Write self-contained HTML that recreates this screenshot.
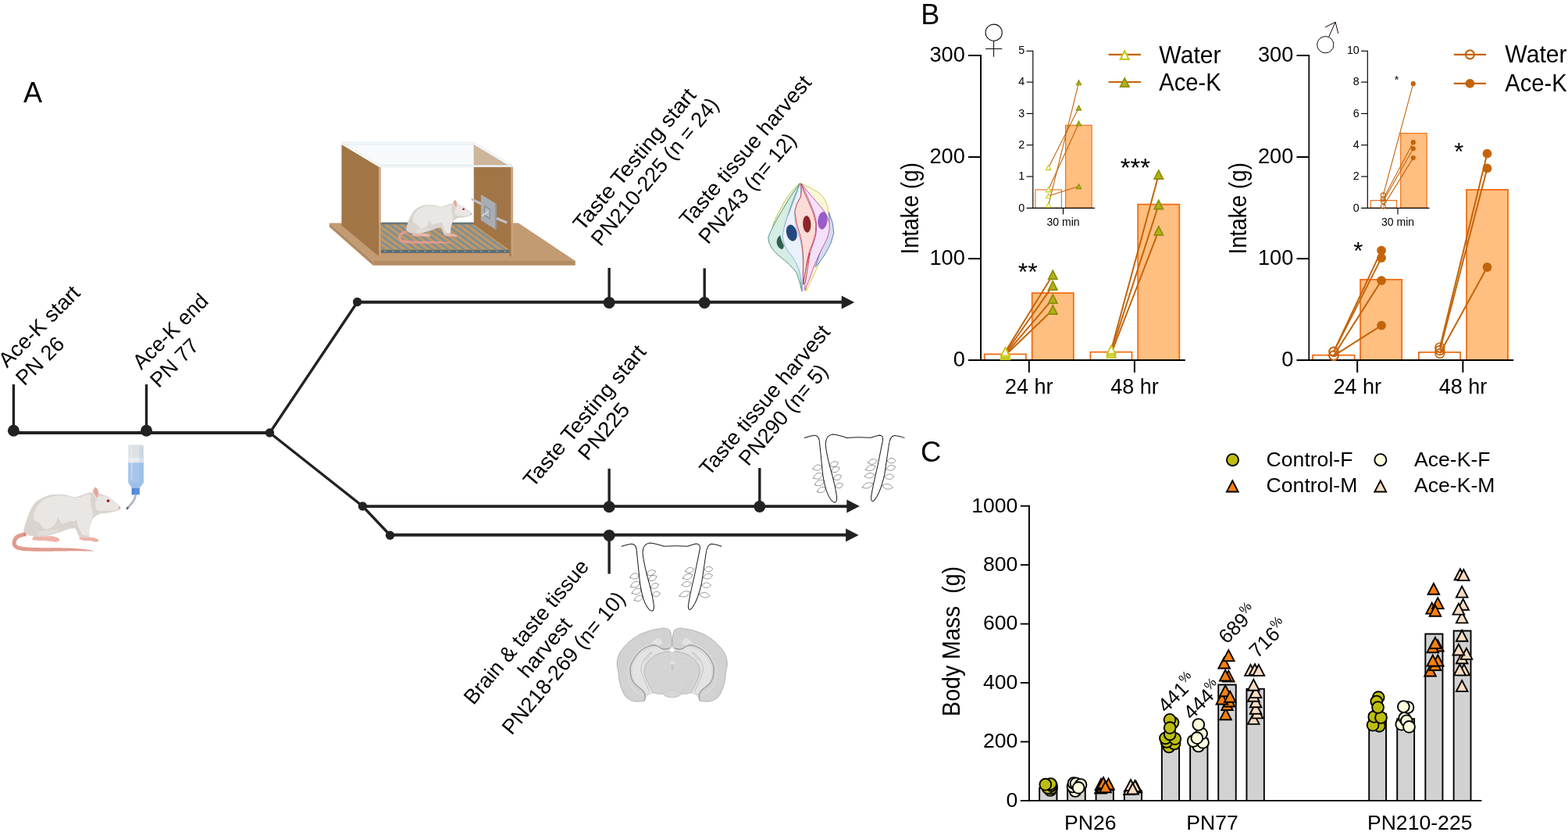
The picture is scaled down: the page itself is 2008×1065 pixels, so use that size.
<!DOCTYPE html>
<html lang="en">
<head>
<meta charset="utf-8">
<title>Figure</title>
<style>
html,body{margin:0;padding:0;background:#fff;}
body{width:2008px;height:1065px;overflow:hidden;}
svg{display:block;position:absolute;left:0;top:0;}
text{font-family:"Liberation Sans","DejaVu Sans",sans-serif;fill:#000;}
</style>
</head>
<body>
<svg width="2008" height="1065" viewBox="0 0 2008 1065">
<rect x="0" y="0" width="2008" height="1065" fill="#ffffff"/>
<!-- 05_rat.svg -->
<defs>
<g id="rat">
  <path d="M260,744 L259,744 L258,744 L256,744 L253,744 L249,744 L245,744 L241,744 L236,745 L231,746 L225,747 L219,748 L213,750 L207,751 L200,753 L193,756 L185,758 L177,761 L168,764 L159,767 L150,770 L142,774 L133,778 L125,783 L117,788 L110,793 L104,799 L98,805 L93,811 L88,818 L84,824 L80,831 L77,837 L74,844 L71,850 L69,857 L67,863 L65,870 L64,876 L63,883 L62,890 L62,897 L62,905 L63,912 L64,919 L66,927 L69,934 L72,942 L77,948 L81,954 L85,959 L90,964 L95,969 L101,974 L108,979 L115,983 L123,987 L131,990 L140,994 L150,997 L160,999 L172,1002 L183,1004 L195,1006 L208,1007 L222,1009 L236,1010 L251,1011 L266,1012 L282,1013 L299,1014 L316,1015 L334,1015 L353,1016 L373,1017 L394,1017 L417,1017 L439,1017 L463,1017 L486,1017 L510,1017 L534,1017 L557,1017 L580,1017 L603,1017 L625,1017 L648,1017 L672,1016 L695,1016 L718,1016 L741,1015 L764,1015 L787,1015 L809,1014 L830,1014 L851,1014 L871,1013 L890,1013 L909,1013 L928,1013 L946,1013 L964,1013 L981,1013 L998,1013 L1014,1013 L1029,1013 L1044,1013 L1058,1013 L1071,1013 L1084,1014 L1095,1014 L1106,1014 L1116,1014 L1125,1014 L1134,1014 L1143,1014 L1150,1014 L1158,1014 L1165,1014 L1172,1014 L1179,1014 L1186,1014 L1192,1014 L1199,1014 L1204,1014 L1209,1014 L1214,1014 L1219,1014 L1223,1014 L1227,1014 L1230,1014 L1233,1014 L1236,1013 L1236,1011 L1234,1010 L1231,1009 L1227,1009 L1224,1008 L1220,1007 L1215,1006 L1210,1005 L1205,1004 L1199,1003 L1193,1002 L1187,1001 L1181,1000 L1174,999 L1167,998 L1160,996 L1152,995 L1144,994 L1136,993 L1127,991 L1118,990 L1108,988 L1097,987 L1085,986 L1073,985 L1059,983 L1045,982 L1031,981 L1015,979 L999,978 L982,977 L965,976 L947,974 L929,973 L910,972 L891,971 L871,971 L851,970 L830,969 L809,969 L787,969 L764,968 L741,968 L718,968 L695,968 L672,968 L648,968 L626,967 L603,967 L580,967 L557,966 L534,966 L510,966 L486,966 L463,966 L440,965 L417,965 L395,965 L375,964 L355,963 L336,963 L319,962 L302,961 L285,959 L270,958 L255,957 L241,956 L228,954 L215,953 L204,951 L193,949 L183,947 L174,945 L165,943 L158,940 L152,938 L147,936 L143,933 L139,931 L136,929 L133,926 L130,924 L128,921 L125,918 L123,916 L122,914 L121,912 L120,909 L120,907 L119,904 L119,901 L119,897 L119,894 L119,890 L120,886 L120,882 L121,879 L123,875 L124,871 L126,867 L128,863 L130,859 L132,855 L135,851 L138,847 L141,843 L144,840 L147,837 L151,834 L155,831 L159,829 L165,826 L172,823 L179,820 L187,817 L195,815 L202,812 L210,810 L217,808 L223,806 L229,804 L233,803 L237,802 L240,802 L243,801 L246,801 L248,801 L251,800 L253,800 L256,800 L259,800 L262,800 L264,800 Z" fill="#E19B8F"/>
  <path d="M262,744 L236,742 L222,800 L262,800 Z" fill="#D98474"/>
  <path d="M380,805 Q340,830 352,852 Q420,868 520,862 Q620,872 700,882 Q745,868 745,845 Q735,822 700,815 L640,800 Z" fill="#EDB4A8"/>
  <path d="M1030,815 Q1010,835 1050,852 Q1100,872 1180,862 Q1250,885 1300,880 Q1312,858 1290,840 Q1250,822 1190,812 Z" fill="#EDB4A8"/>
  <path d="M660,850 L690,878 M700,846 L730,870 M1230,845 L1262,876 M1268,848 L1298,872" stroke="#D9968A" stroke-width="7" fill="none" stroke-linecap="round"/>
  <path d="M225,722 Q240,650 285,520 Q325,400 400,312 Q490,240 600,207 Q720,188 850,210 Q910,225 955,242 Q1020,232 1100,196 Q1160,170 1212,168 Q1260,150 1325,188 Q1390,208 1450,242 Q1530,298 1592,352 Q1625,380 1618,408 Q1605,425 1585,428 Q1530,448 1450,460 Q1370,466 1320,480 Q1260,508 1222,545 Q1192,600 1172,680 Q1165,750 1172,805 Q1100,830 1030,815 Q1002,780 994,735 Q985,700 960,686 Q900,682 840,708 Q790,730 740,745 Q680,762 610,784 Q560,802 500,808 Q400,812 300,790 Q250,765 225,722 Z" fill="#D9D4CF"/>
  <path d="M372,480 Q400,370 500,285 Q600,225 730,215 Q860,218 955,252 Q1040,244 1130,205 Q1175,190 1195,215 Q1180,300 1200,380 Q1230,450 1215,520 Q1180,600 1170,690 Q1165,750 1165,790 Q1100,800 1060,770 Q1030,700 1000,640 Q990,600 1000,560 Q960,592 900,582 Q830,600 790,625 Q745,600 715,520 Q705,600 660,650 Q600,700 530,700 Q490,670 470,620 Q430,590 385,575 Q365,530 372,480 Z" fill="#E9E6E4"/>
  <path d="M1258,300 Q1290,262 1320,215 Q1390,215 1450,250 Q1530,305 1590,358 Q1610,385 1598,410 Q1530,435 1450,438 Q1380,425 1330,440 Q1280,430 1262,400 Q1250,350 1258,300 Z" fill="#E9E6E4"/>
  <path d="M420,735 Q520,730 640,700 Q700,690 750,712 Q700,745 620,772 Q540,792 450,790 Q430,765 420,735 Z" fill="#E1DDD8"/>
  <path d="M1208,170 Q1212,110 1250,88 Q1290,95 1310,165 Q1305,225 1285,262 Q1245,230 1208,170 Z" fill="#EFEAE7"/>
  <path d="M1226,165 Q1232,114 1256,100 Q1288,112 1302,168 Q1298,218 1282,250 Q1248,218 1226,165 Z" fill="#E4A89C"/>
  <ellipse cx="1441" cy="292" rx="22" ry="21" fill="#A5232B"/>
  <circle cx="1436" cy="287" r="7" fill="#7A1218"/>
  <path d="M1596,372 Q1622,378 1620,400 Q1610,415 1594,410 Q1588,390 1596,372 Z" fill="#E5A0A0"/>
  <path d="M1585,428 Q1530,448 1450,460 Q1400,462 1360,470" stroke="#CFC8C2" stroke-width="5" fill="none"/>
</g>
</defs>
<use href="#rat" transform="translate(10,615) scale(0.089186)"/>
<g id="bottle" transform="translate(140,560) scale(0.093835)">
  <path d="M258,120 Q258,100 290,98 L436,98 Q468,100 468,120 L468,612 L412,690 L310,690 L258,612 Z" fill="#DCE2E6"/>
  <path d="M258,340 L468,340 L468,612 L412,690 L310,690 L258,612 Z" fill="#A6C6EB"/>
  <rect x="258" y="278" width="210" height="62" fill="#E9EDF0"/>
  <rect x="258" y="338" width="210" height="12" fill="#C3D9F2"/>
  <rect x="296" y="130" width="18" height="440" fill="#ffffff" opacity="0.35"/>
  <rect x="410" y="120" width="58" height="490" fill="#7fa6d8" opacity="0.18"/>
  <path d="M258,612 L468,612 L412,690 L310,690 Z" fill="#9DC0EA"/>
  <rect x="306" y="690" width="108" height="90" rx="8" fill="#5A8DDA"/>
  <rect x="306" y="690" width="30" height="90" rx="8" fill="#4A7ACB" opacity="0.6"/>
  <path d="M360,778 Q352,835 322,878 L244,968" stroke="#8E98A8" stroke-width="26" fill="none" stroke-linecap="butt"/>
  <path d="M360,778 Q352,835 322,878 L246,966" stroke="#C4CBD6" stroke-width="14" fill="none" stroke-linecap="butt"/>
  <path d="M252,958 L242,970" stroke="#59647A" stroke-width="26" fill="none" stroke-linecap="round"/>
</g>
<!-- 06_cage.svg -->
<g id="cage" transform="translate(410,170) scale(0.16932)">
  <path d="M70,682 L1500,682 L1930,968 L400,968 Z" fill="#C39B73"/>
  <path d="M400,968 L1930,968 L1930,1003 L400,1003 Z" fill="#B38C63"/>
  <path d="M70,682 L400,968 L400,1003 L70,712 Z" fill="#B38C63"/>
  <clipPath id="floorclip"><path d="M458,690 L1160,690 L1431,884 L458,884 Z"/></clipPath>
  <path d="M458,678 L1160,678 L1431,884 L458,884 Z" fill="#C6975F"/>
  <g clip-path="url(#floorclip)" stroke="#7F9197" stroke-width="18" fill="none">
    <path d="M157,690 L428,884"/>
    <path d="M217.5,690 L488.5,884"/>
    <path d="M278.0,690 L549.0,884"/>
    <path d="M338.5,690 L609.5,884"/>
    <path d="M399.0,690 L670.0,884"/>
    <path d="M459.5,690 L730.5,884"/>
    <path d="M520.0,690 L791.0,884"/>
    <path d="M580.5,690 L851.5,884"/>
    <path d="M641.0,690 L912.0,884"/>
    <path d="M701.5,690 L972.5,884"/>
    <path d="M762.0,690 L1033.0,884"/>
    <path d="M822.5,690 L1093.5,884"/>
    <path d="M883.0,690 L1154.0,884"/>
    <path d="M943.5,690 L1214.5,884"/>
    <path d="M1004.0,690 L1275.0,884"/>
    <path d="M1064.5,690 L1335.5,884"/>
    <path d="M1125.0,690 L1396.0,884"/>
    <path d="M1185.5,690 L1456.5,884"/>
  </g>
  <path d="M458,678 L1160,678 L1180,693 L458,693 Z" fill="#66777C"/>
  <path d="M458,884 L1431,884 L1431,910 L458,910 Z" fill="#5F6E73"/>
  <g fill="#83959A">
    <circle cx="490" cy="897" r="7"/>
    <circle cx="550" cy="897" r="7"/>
    <circle cx="611" cy="897" r="7"/>
    <circle cx="672" cy="897" r="7"/>
    <circle cx="732" cy="897" r="7"/>
    <circle cx="792" cy="897" r="7"/>
    <circle cx="853" cy="897" r="7"/>
    <circle cx="914" cy="897" r="7"/>
    <circle cx="974" cy="897" r="7"/>
    <circle cx="1034" cy="897" r="7"/>
    <circle cx="1095" cy="897" r="7"/>
    <circle cx="1156" cy="897" r="7"/>
    <circle cx="1216" cy="897" r="7"/>
    <circle cx="1276" cy="897" r="7"/>
    <circle cx="1337" cy="897" r="7"/>
    <circle cx="1398" cy="897" r="7"/>
  </g>
  <path d="M162,88 L445,258 L445,935 L162,700 Z" fill="#A27546"/>
  <path d="M445,258 L459,258 L459,935 L445,935 Z" fill="#C9A27B"/>
  <path d="M1162,88 L1445,258 L1445,935 L1431,884 L1162,692 Z" fill="#A27546"/>
  <path d="M1431,884 L1445,884 L1445,935 L1431,935 Z" fill="#A27546"/>
  <path d="M1445,258 L1459,258 L1459,935 L1445,935 Z" fill="#C9A27B"/>
  <path d="M1143,492 L1216,526 L1216,546 L1143,508 Z" fill="#BFC5CE"/>
  <path d="M1334,636 L1418,672 L1408,688 L1334,656 Z" fill="#BFC5CE"/>
  <path d="M1216,466 L1334,538 L1334,736 L1216,662 Z" fill="#A8ADB3"/>
  <path d="M1324,532 L1334,538 L1334,736 L1324,730 Z" fill="#8E949B"/>
  <path d="M1240,548 L1287,576 L1287,656 L1240,628 Z" fill="#8A9097"/>
  <path d="M1248,562 L1280,581 L1280,640 L1248,622 Z" fill="#B6BBC1"/>
  <path d="M1226,626 L1268,598" stroke="#D3D8DE" stroke-width="11" stroke-linecap="round" fill="none"/>
  <path d="M162,72 L1165,72 L1450,245 L445,245 Z" fill="#F4F8FB" fill-opacity="0.75" stroke="#C9D6DE" stroke-width="3"/>
  <path d="M162,88 L1162,88" stroke="#C9D6DE" stroke-width="3" fill="none"/>
  <path d="M1162,89 L1440,256 L1162,256 Z" fill="#CDB59C"/>
  <path d="M445,245 L1450,245 L1450,258 L445,258 Z" fill="#FAFCFD" stroke="#C9D6DE" stroke-width="3"/>
</g>
<use href="#rat" transform="translate(506.2,250.05) scale(0.06065)"/>
<!-- 07_bud.svg -->
<g id="tastebud" transform="translate(960,220) scale(0.15022)" stroke-width="6" stroke-linejoin="round">
  <path d="M432,96 Q520,130 600,185 Q665,250 670,330 Q700,420 690,520 Q660,640 600,760 Q540,900 482,1016 Q470,900 500,700 Q560,400 432,96 Z" fill="#FAF6D8" stroke="#D2C24E"/>
  <path d="M425,98 Q330,180 260,320 Q205,420 195,470 Q250,420 330,300 Q390,190 425,98 Z" fill="#F1F3D2" stroke="#B5C050"/>
  <path d="M675,345 Q715,430 718,520 Q700,610 650,690 Q600,770 560,810 Q600,680 650,560 Q690,450 675,345 Z" fill="#D3DDEE" stroke="#4F72BA"/>
  <path d="M428,98 Q340,210 270,340 Q190,470 158,560 Q160,640 250,715 Q350,790 400,860 Q430,940 445,1018 Q440,900 420,800 Q380,700 310,640 Q280,560 300,450 Q350,280 428,98 Z" fill="#D5EDE3" stroke="#3F8A76"/>
  <path d="M262,540 Q232,560 230,600 Q235,645 275,660 Q295,650 290,620 Q270,590 262,540 Z" fill="#2E5F50" stroke="none"/>
  <path d="M430,98 Q395,200 345,330 Q290,450 282,540 Q285,620 330,680 Q400,760 425,850 Q445,940 448,1018 Q455,900 455,780 Q455,640 420,540 Q380,430 385,330 Q400,260 435,210 Q440,150 430,98 Z" fill="#EAF1FB" stroke="#8FA9DA"/>
  <ellipse cx="358" cy="520" rx="43" ry="70" transform="rotate(-14 358 520)" fill="#25487F" stroke="#1B3560" stroke-width="2"/>
  <path d="M440,100 Q520,200 600,290 Q670,370 682,450 Q680,540 640,610 Q590,700 550,800 Q510,920 470,1010 Q470,900 500,760 Q520,660 560,560 Q580,470 560,380 Q520,260 440,100 Z" fill="#F4E0F8" stroke="#BD4FA0"/>
  <ellipse cx="622" cy="415" rx="39" ry="74" transform="rotate(6 622 415)" fill="#9A5CC6" stroke="#7B42A6" stroke-width="2"/>
  <path d="M438,100 Q445,170 435,215 Q395,270 385,335 Q390,430 425,520 Q455,620 458,760 Q455,900 458,960 Q475,860 490,760 Q505,670 540,600 Q572,520 565,440 Q545,340 500,250 Q460,170 438,100 Z" fill="#FBDCD8" stroke="#C23A40"/>
  <path d="M458,960 Q480,800 512,690 Q500,800 475,940 Z" fill="#FBDCD8" stroke="#C23A40"/>
  <ellipse cx="488" cy="445" rx="33" ry="71" transform="rotate(-3 488 445)" fill="#8C2528" stroke="#6E1A1E" stroke-width="2"/>
</g>
<!-- 08_pap.svg -->
<defs>
<g id="papillae" fill="none" stroke="#1c1c1c" stroke-linecap="round" stroke-linejoin="round">
  <path stroke-width="9" d="M92,181 Q150,163 200,154 Q250,152 260,215 L298,590 Q330,820 405,900 Q460,945 458,855 Q440,720 385,530 Q335,340 330,250 Q335,150 412,142 Q480,148 572,181 Q700,170 842,180 Q900,160 938,152 Q988,152 980,212 L922,500 Q862,750 848,858 Q848,925 885,888 Q950,815 1000,600 L1050,262 Q1062,162 1112,155 Q1170,160 1225,181"/>
  <path stroke-width="4.2" stroke="#2a2a2a" d="M188,535 Q258,583 290,505 Q220,457 188,535 Z"/>
  <path stroke-width="4.2" stroke="#2a2a2a" d="M192,640 Q274,675 300,590 Q218,555 192,640 Z"/>
  <path stroke-width="4.2" stroke="#2a2a2a" d="M208,715 Q288,754 318,670 Q238,631 208,715 Z"/>
  <path stroke-width="4.2" stroke="#2a2a2a" d="M235,795 Q310,829 335,750 Q260,716 235,795 Z"/>
  <path stroke-width="4.2" stroke="#2a2a2a" d="M375,500 Q448,539 478,462 Q405,423 375,500 Z"/>
  <path stroke-width="4.2" stroke="#2a2a2a" d="M395,565 Q469,599 490,520 Q416,486 395,565 Z"/>
  <path stroke-width="4.2" stroke="#2a2a2a" d="M420,650 Q490,688 512,612 Q442,574 420,650 Z"/>
  <path stroke-width="4.2" stroke="#2a2a2a" d="M440,735 Q500,782 530,712 Q470,665 440,735 Z"/>
  <path stroke-width="4.2" stroke="#2a2a2a" d="M815,465 Q880,513 915,440 Q850,392 815,465 Z"/>
  <path stroke-width="4.2" stroke="#2a2a2a" d="M785,545 Q863,584 900,505 Q822,466 785,545 Z"/>
  <path stroke-width="4.2" stroke="#2a2a2a" d="M775,620 Q841,671 885,600 Q819,549 775,620 Z"/>
  <path stroke-width="4.2" stroke="#2a2a2a" d="M748,745 Q830,781 870,700 Q788,664 748,745 Z"/>
  <path stroke-width="4.2" stroke="#2a2a2a" d="M1030,445 Q1083,503 1128,438 Q1075,380 1030,445 Z"/>
  <path stroke-width="4.2" stroke="#2a2a2a" d="M1018,535 Q1086,583 1125,510 Q1057,462 1018,535 Z"/>
  <path stroke-width="4.2" stroke="#2a2a2a" d="M1000,625 Q1056,685 1108,622 Q1052,562 1000,625 Z"/>
  <path stroke-width="4.2" stroke="#2a2a2a" d="M975,725 Q1025,796 1095,745 Q1045,674 975,725 Z"/>
</g>
</defs>
<use href="#papillae" transform="translate(1020,540) scale(0.1127)"/>
<use href="#papillae" transform="translate(785.8,678.9) scale(0.1127)"/>
<!-- 09_brain.svg -->
<g id="brain" transform="translate(770,790) scale(0.11264)" stroke-linejoin="round">
  <path d="M805,250 Q700,130 440,195 Q215,395 200,700 Q260,900 490,950 Q520,880 590,860 Q700,872 805,912 Q910,872 1020,860 Q1090,880 1120,950 Q1350,900 1410,700 Q1395,395 1170,195 Q910,130 805,250 Z" fill="#E1E1E1" stroke="none"/>
  <path d="M640,330 Q560,325 470,395 Q380,470 350,560 Q335,640 370,730 Q420,790 490,840 Q510,870 520,880 Q560,870 590,860 Q540,760 500,680 Q470,600 500,540 Q540,470 600,430 Q660,400 740,395 Q700,370 640,330 Z" fill="#E3E3E3" stroke="#BDBBBB" stroke-width="4"/>
  <path d="M970,330 Q1050,325 1140,395 Q1230,470 1260,560 Q1275,640 1240,730 Q1190,790 1120,840 Q1100,870 1090,880 Q1050,870 1020,860 Q1070,760 1110,680 Q1140,600 1110,540 Q1070,470 1010,430 Q950,400 870,395 Q910,370 970,330 Z" fill="#E3E3E3" stroke="#BDBBBB" stroke-width="4"/>
  <path d="M805,400 Q780,385 740,392 Q660,405 610,440 Q540,480 505,550 Q480,610 505,690 Q540,770 590,860 Q640,880 700,872 Q720,900 760,908 Q790,912 805,912 Q820,912 850,908 Q890,900 910,872 Q970,880 1020,860 Q1070,770 1105,690 Q1130,610 1105,550 Q1070,480 1000,440 Q950,405 870,392 Q830,385 805,400 Z" fill="#D4D4D4" stroke="#A9A6A6" stroke-width="5"/>
  <path d="M805,300 Q800,190 780,150 Q750,120 690,126 Q560,140 440,195 Q300,270 215,395 Q170,480 180,560 Q200,620 200,700 Q215,800 260,880 Q300,945 380,958 Q450,965 490,950 Q505,920 498,880 Q480,830 430,800 Q370,760 345,700 Q320,620 335,550 Q370,450 450,380 Q530,320 610,318 Q650,330 690,360 Q740,372 775,355 Q800,335 805,300 Z" fill="#D2D2D2" stroke="#A09C9C" stroke-width="6"/>
  <path d="M805,300 Q810,190 830,150 Q860,120 920,126 Q1050,140 1170,195 Q1310,270 1395,395 Q1440,480 1430,560 Q1410,620 1410,700 Q1395,800 1350,880 Q1310,945 1230,958 Q1160,965 1120,950 Q1105,920 1112,880 Q1130,830 1180,800 Q1240,760 1265,700 Q1290,620 1275,550 Q1240,450 1160,380 Q1080,320 1000,318 Q960,330 920,360 Q870,372 835,355 Q810,335 805,300 Z" fill="#D2D2D2" stroke="#A09C9C" stroke-width="6"/>
  <path d="M490,950 Q505,920 498,880 Q480,830 430,800 Q370,760 345,700 Q320,620 335,550 Q370,450 450,380 Q530,320 610,318 Q650,330 690,360 Q740,372 775,355" fill="none" stroke="#9A9696" stroke-width="9" stroke-linecap="round"/>
  <path d="M1120,950 Q1105,920 1112,880 Q1130,830 1180,800 Q1240,760 1265,700 Q1290,620 1275,550 Q1240,450 1160,380 Q1080,320 1000,318 Q960,330 920,360 Q870,372 835,355" fill="none" stroke="#9A9696" stroke-width="9" stroke-linecap="round"/>
  <path d="M560,300 Q600,250 650,238 Q690,250 690,290 Q680,320 650,325 Q620,305 560,300 Z" fill="#E2E2E2" stroke="none"/>
  <path d="M1050,300 Q1010,250 960,238 Q920,250 920,290 Q930,320 960,325 Q990,305 1050,300 Z" fill="#E2E2E2" stroke="none"/>
  <path d="M555,305 Q470,340 400,410 Q330,490 305,580 Q290,680 330,770 Q380,850 470,890" fill="none" stroke="#E0E0E0" stroke-width="14"/>
  <path d="M555,305 Q470,340 400,410 Q330,490 305,580 Q290,680 330,770 Q380,850 470,890" fill="none" stroke="#C4C2C2" stroke-width="3"/>
  <path d="M1055,305 Q1140,340 1210,410 Q1280,490 1305,580 Q1320,680 1280,770 Q1230,850 1140,890" fill="none" stroke="#E0E0E0" stroke-width="14"/>
  <path d="M1055,305 Q1140,340 1210,410 Q1280,490 1305,580 Q1320,680 1280,770 Q1230,850 1140,890" fill="none" stroke="#C4C2C2" stroke-width="3"/>
  <path d="M580,390 Q520,430 480,490 Q450,540 450,600 Q470,680 510,760 Q540,820 545,850" fill="none" stroke="#A9A6A6" stroke-width="5"/>
  <path d="M1030,390 Q1090,430 1130,490 Q1160,540 1160,600 Q1140,680 1100,760 Q1070,820 1065,850" fill="none" stroke="#A9A6A6" stroke-width="5"/>
  <path d="M575,395 Q560,420 520,470 Q500,490 490,500" fill="none" stroke="#B0ADAD" stroke-width="6"/>
  <path d="M1035,395 Q1050,420 1090,470 Q1110,490 1120,500" fill="none" stroke="#B0ADAD" stroke-width="6"/>
  <path d="M745,400 Q700,420 680,455 Q690,480 710,460 Q730,430 760,415 Z" fill="#DDDDDD" stroke="#B0ADAD" stroke-width="3"/>
  <path d="M865,400 Q910,420 930,455 Q920,480 900,460 Q880,430 850,415 Z" fill="#DDDDDD" stroke="#B0ADAD" stroke-width="3"/>
  <path d="M775,368 L805,350 L838,370 L812,395 L805,410 L796,392 Z" fill="#ffffff" stroke="none"/>
  <ellipse cx="808" cy="520" rx="28" ry="22" fill="#E2E2E2" stroke="none"/>
  <path d="M800,540 Q812,535 818,550 Q815,585 808,598 Q800,580 800,540 Z" fill="#D8D8D8" stroke="#8F8C8C" stroke-width="3"/>
  <path d="M700,872 Q720,840 770,828 Q840,825 890,845 Q910,860 910,872 Q890,900 850,908 Q805,915 760,908 Q720,900 700,872 Z" fill="#D6D6D6" stroke="#B5B2B2" stroke-width="3"/>
  <path d="M560,700 Q610,760 660,790 Q690,830 690,860" fill="none" stroke="#BEBBBB" stroke-width="3"/>
  <path d="M1050,700 Q1000,760 950,790 Q920,830 920,860" fill="none" stroke="#BEBBBB" stroke-width="3"/>
</g>
<!-- 10_timeline.svg -->
<g id="timeline" stroke="#222222" fill="none" stroke-linecap="butt">
  <path stroke-width="4" d="M17.5,554 H345.5"/>
  <path stroke-width="3.4" d="M345.5,554 L457.6,386.7"/>
  <path stroke-width="3.9" d="M457.6,386.7 H1079"/>
  <path stroke-width="3.4" d="M345.5,554 L464.4,648 L499.5,685"/>
  <path stroke-width="3.9" d="M464.4,648.1 H1086"/>
  <path stroke-width="3.9" d="M499.5,684.8 H1085"/>
  <path stroke-width="3.4" d="M17.4,492 V552"/>
  <path stroke-width="3.4" d="M187.5,492 V552"/>
  <path stroke-width="3.4" d="M780.1,342.9 V387"/>
  <path stroke-width="3.4" d="M902.2,343.4 V387"/>
  <path stroke-width="3.4" d="M780.1,599.9 V648"/>
  <path stroke-width="3.4" d="M972.8,599 V648"/>
  <path stroke-width="3.4" d="M780.1,685 V734.5"/>
</g>
<g id="timeline-dots" fill="#222222" stroke="none">
  <circle cx="17.4" cy="551.2" r="7.5"/>
  <circle cx="187.5" cy="551.2" r="7.5"/>
  <circle cx="345.4" cy="554" r="5.7"/>
  <circle cx="457.6" cy="386.5" r="5.7"/>
  <circle cx="464.4" cy="648" r="5.7"/>
  <circle cx="499.5" cy="685.2" r="5.7"/>
  <circle cx="780.1" cy="387.4" r="7.5"/>
  <circle cx="902.2" cy="387.4" r="7.5"/>
  <circle cx="780.1" cy="648.8" r="7.5"/>
  <circle cx="972.8" cy="648.4" r="7.5"/>
  <circle cx="780.1" cy="685.4" r="7.5"/>
  <path d="M1077.7,378.4 L1094.2,386.9 L1077.7,395.4 Z"/>
  <path d="M1084.3,639.6 L1100.8,648.1 L1084.3,656.6 Z"/>
  <path d="M1083.1,676.5 L1099.6,685 L1083.1,693.5 Z"/>
</g>
<g id="timeline-labels" font-size="27">
  <text x="29.9" y="130.5" font-size="36">A</text>
  <g transform="translate(9,471.7) rotate(-45)"><text x="0" y="0.0" textLength="134.6" lengthAdjust="spacingAndGlyphs">Ace-K start</text><text x="-0.7" y="32.0" textLength="75" lengthAdjust="spacingAndGlyphs">PN 26</text></g>
  <g transform="translate(181.1,474.3) rotate(-45)"><text x="0" y="0.0" textLength="123.5" lengthAdjust="spacingAndGlyphs">Ace-K end</text><text x="-0.7" y="32.0" textLength="75" lengthAdjust="spacingAndGlyphs">PN 77</text></g>
  <g transform="translate(746.2,297.1) rotate(-50)"><text x="0" y="0.0" textLength="228" lengthAdjust="spacingAndGlyphs">Taste Testing start</text><text x="0" y="30.2" textLength="237.3" lengthAdjust="spacingAndGlyphs">PN210-225 (n = 24)</text></g>
  <g transform="translate(882.3,291.6) rotate(-49.5)"><text x="0" y="0.0" textLength="243.4" lengthAdjust="spacingAndGlyphs">Taste tissue harvest</text><text x="-1" y="33.0" textLength="176" lengthAdjust="spacingAndGlyphs">PN243 (n= 12)</text></g>
  <g transform="translate(682.5,625.3) rotate(-50)"><text x="0" y="0.0" textLength="227.5" lengthAdjust="spacingAndGlyphs">Taste Testing start</text><text x="71.4" y="31.6" textLength="86" lengthAdjust="spacingAndGlyphs">PN225</text></g>
  <g transform="translate(907.9,610.6) rotate(-49.75)"><text x="0" y="0.0" textLength="242.2" lengthAdjust="spacingAndGlyphs">Taste tissue harvest</text><text x="42.3" y="30.1" textLength="160" lengthAdjust="spacingAndGlyphs">PN290 (n= 5)</text></g>
  <g transform="translate(606.2,903.4) rotate(-50)"><text x="0" y="0.0" textLength="232" lengthAdjust="spacingAndGlyphs">Brain &amp; taste tissue</text><text x="70.5" y="31.2" textLength="90.5" lengthAdjust="spacingAndGlyphs">harvest</text><text x="1.9" y="62.4" textLength="228.5" lengthAdjust="spacingAndGlyphs">PN218-269 (n= 10)</text></g>
</g>
<!-- 20_chartB.svg -->
<g id="chartB-female">
  <path d="M1260.78,461.1 V453.38 H1313.92 V461.1" fill="#ffffff" stroke="#F26A10" stroke-width="1.75"/>
  <path d="M1321.67,461.1 V375.07 H1374.83 V461.1" fill="#FFBF80" stroke="#F26A10" stroke-width="1.75"/>
  <path d="M1396.38,461.1 V450.57 H1449.53 V461.1" fill="#ffffff" stroke="#F26A10" stroke-width="1.75"/>
  <path d="M1457.17,461.1 V261.73 H1510.33 V461.1" fill="#FFBF80" stroke="#F26A10" stroke-width="1.75"/>
  <rect x="1325.9" y="242.9" width="33.5" height="23.4" fill="#ffffff" stroke="#F26A10" stroke-width="1.1"/>
  <rect x="1364.6" y="160.3" width="33.6" height="106.0" fill="#FFBF80" stroke="#F26A10" stroke-width="1.1"/>
  <path d="M1322.8,64.75 V266.8" stroke="#000000" stroke-width="1.15" fill="none"/>
  <path d="M1314.6,266.3 H1402.0" stroke="#000000" stroke-width="1.15" fill="none"/>
  <path d="M1361.5,266.3 V274.4" stroke="#000000" stroke-width="1.15" fill="none"/>
  <text x="1312.3"  y="270.6" font-size="14.3" text-anchor="end">0</text>
  <path d="M1314.6,226.0 H1322.8" stroke="#000000" stroke-width="1.15" fill="none"/>
  <text x="1312.3"  y="230.3" font-size="14.3" text-anchor="end">1</text>
  <path d="M1314.6,185.7 H1322.8" stroke="#000000" stroke-width="1.15" fill="none"/>
  <text x="1312.3"  y="190.0" font-size="14.3" text-anchor="end">2</text>
  <path d="M1314.6,145.4 H1322.8" stroke="#000000" stroke-width="1.15" fill="none"/>
  <text x="1312.3"  y="149.7" font-size="14.3" text-anchor="end">3</text>
  <path d="M1314.6,105.1 H1322.8" stroke="#000000" stroke-width="1.15" fill="none"/>
  <text x="1312.3"  y="109.4" font-size="14.3" text-anchor="end">4</text>
  <path d="M1314.6,65.3 H1322.8" stroke="#000000" stroke-width="1.15" fill="none"/>
  <text x="1312.3"  y="69.1" font-size="14.3" text-anchor="end">5</text>
  <text x="1340.4" y="288.5" font-size="14.4" textLength="42.2" lengthAdjust="spacingAndGlyphs">30 min</text>
  <path d="M1342.7,214.4 L1381.5,138.1" stroke="#C4640A" stroke-width="1.1" fill="none"/>
  <path d="M1342.7,242.6 L1381.5,158.0" stroke="#C4640A" stroke-width="1.1" fill="none"/>
  <path d="M1342.7,250.8 L1381.5,238.6" stroke="#C4640A" stroke-width="1.1" fill="none"/>
  <path d="M1342.7,262.5 L1381.5,105.7" stroke="#C4640A" stroke-width="1.1" fill="none"/>
  <path d="M1342.7,211.4 L1345.9,217.4 L1339.5,217.4 Z" fill="#ffffff" stroke="#C8C81A" stroke-width="1.1" stroke-linejoin="miter"/>
  <path d="M1342.7,239.6 L1345.9,245.6 L1339.5,245.6 Z" fill="#ffffff" stroke="#C8C81A" stroke-width="1.1" stroke-linejoin="miter"/>
  <path d="M1342.7,247.8 L1345.9,253.8 L1339.5,253.8 Z" fill="#ffffff" stroke="#C8C81A" stroke-width="1.1" stroke-linejoin="miter"/>
  <path d="M1342.7,259.5 L1345.9,265.5 L1339.5,265.5 Z" fill="#ffffff" stroke="#C8C81A" stroke-width="1.1" stroke-linejoin="miter"/>
  <path d="M1381.5,135.1 L1384.7,141.1 L1378.3,141.1 Z" fill="#B2B212" stroke="#8E8E0E" stroke-width="1.1" stroke-linejoin="miter"/>
  <path d="M1381.5,155.0 L1384.7,161.0 L1378.3,161.0 Z" fill="#B2B212" stroke="#8E8E0E" stroke-width="1.1" stroke-linejoin="miter"/>
  <path d="M1381.5,235.6 L1384.7,241.6 L1378.3,241.6 Z" fill="#B2B212" stroke="#8E8E0E" stroke-width="1.1" stroke-linejoin="miter"/>
  <path d="M1381.5,102.7 L1384.7,108.7 L1378.3,108.7 Z" fill="#B2B212" stroke="#8E8E0E" stroke-width="1.1" stroke-linejoin="miter"/>
  <path d="M1256.0,70 V462.1" stroke="#000000" stroke-width="2.0" fill="none"/>
  <path d="M1240.0,461.1 H1517.8" stroke="#000000" stroke-width="2.0" fill="none"/>
  <path d="M1240.0,331.1 H1256.0" stroke="#000000" stroke-width="2.0" fill="none"/>
  <path d="M1240.0,201.0 H1256.0" stroke="#000000" stroke-width="2.0" fill="none"/>
  <path d="M1240.0,71.0 H1256.0" stroke="#000000" stroke-width="2.0" fill="none"/>
  <text x="1235.8" y="469.0" font-size="27.2" text-anchor="end">0</text>
  <text x="1235.8" y="339.0" font-size="27.2" text-anchor="end">100</text>
  <text x="1235.8" y="208.9" font-size="27.2" text-anchor="end">200</text>
  <text x="1235.8" y="78.9" font-size="27.2" text-anchor="end">300</text>
  <path d="M1317.8,461.1 V476.8" stroke="#000000" stroke-width="2.0" fill="none"/>
  <text x="1317.8" y="504.4" font-size="27" text-anchor="middle">24 hr</text>
  <path d="M1452.9,461.1 V476.8" stroke="#000000" stroke-width="2.0" fill="none"/>
  <text x="1452.9" y="504.4" font-size="27" text-anchor="middle">48 hr</text>
  <path d="M1287.4,450.3 L1348.3,351.8" stroke="#C4640A" stroke-width="2.0" fill="none"/>
  <path d="M1287.4,452.3 L1348.3,365.6" stroke="#C4640A" stroke-width="2.0" fill="none"/>
  <path d="M1287.4,453.6 L1348.3,382.7" stroke="#C4640A" stroke-width="2.0" fill="none"/>
  <path d="M1287.4,454.8 L1348.3,396.5" stroke="#C4640A" stroke-width="2.0" fill="none"/>
  <path d="M1287.4,449.6 L1292.8,460.0 L1282.0,460.0 Z" fill="#ffffff" stroke="#C8C81A" stroke-width="2.0" stroke-linejoin="miter"/>
  <path d="M1287.4,448.4 L1292.8,458.8 L1282.0,458.8 Z" fill="#ffffff" stroke="#C8C81A" stroke-width="2.0" stroke-linejoin="miter"/>
  <path d="M1287.4,447.1 L1292.8,457.5 L1282.0,457.5 Z" fill="#ffffff" stroke="#C8C81A" stroke-width="2.0" stroke-linejoin="miter"/>
  <path d="M1287.4,445.1 L1292.8,455.5 L1282.0,455.5 Z" fill="#ffffff" stroke="#C8C81A" stroke-width="2.0" stroke-linejoin="miter"/>
  <path d="M1348.3,346.3 L1353.9,357.3 L1342.7,357.3 Z" fill="#B2B212" stroke="#8E8E0E" stroke-width="1.8" stroke-linejoin="miter"/>
  <path d="M1348.3,360.1 L1353.9,371.1 L1342.7,371.1 Z" fill="#B2B212" stroke="#8E8E0E" stroke-width="1.8" stroke-linejoin="miter"/>
  <path d="M1348.3,377.2 L1353.9,388.2 L1342.7,388.2 Z" fill="#B2B212" stroke="#8E8E0E" stroke-width="1.8" stroke-linejoin="miter"/>
  <path d="M1348.3,391.0 L1353.9,402.0 L1342.7,402.0 Z" fill="#B2B212" stroke="#8E8E0E" stroke-width="1.8" stroke-linejoin="miter"/>
  <path d="M1423.1,447.6 L1483.8,223.6" stroke="#C4640A" stroke-width="2.0" fill="none"/>
  <path d="M1423.1,450.0 L1483.8,262.0" stroke="#C4640A" stroke-width="2.0" fill="none"/>
  <path d="M1423.1,452.5 L1483.8,295.3" stroke="#C4640A" stroke-width="2.0" fill="none"/>
  <path d="M1423.1,447.3 L1428.5,457.7 L1417.7,457.7 Z" fill="#ffffff" stroke="#C8C81A" stroke-width="2.0" stroke-linejoin="miter"/>
  <path d="M1423.1,444.8 L1428.5,455.2 L1417.7,455.2 Z" fill="#ffffff" stroke="#C8C81A" stroke-width="2.0" stroke-linejoin="miter"/>
  <path d="M1423.1,442.4 L1428.5,452.8 L1417.7,452.8 Z" fill="#ffffff" stroke="#C8C81A" stroke-width="2.0" stroke-linejoin="miter"/>
  <path d="M1483.8,218.1 L1489.4,229.1 L1478.2,229.1 Z" fill="#B2B212" stroke="#8E8E0E" stroke-width="1.8" stroke-linejoin="miter"/>
  <path d="M1483.8,256.5 L1489.4,267.5 L1478.2,267.5 Z" fill="#B2B212" stroke="#8E8E0E" stroke-width="1.8" stroke-linejoin="miter"/>
  <path d="M1483.8,289.8 L1489.4,300.8 L1478.2,300.8 Z" fill="#B2B212" stroke="#8E8E0E" stroke-width="1.8" stroke-linejoin="miter"/>
  <text transform="translate(1175.9,325.6) rotate(-90)" font-size="31.6" textLength="117.6" lengthAdjust="spacingAndGlyphs">Intake (g)</text>
  <path d="M1419.6,69.9 H1461" stroke="#C4640A" stroke-width="2.2"/>
  <path d="M1440.2,65.2 L1445.6,75.8 L1434.8,75.8 Z" fill="#ffffff" stroke="#C8C81A" stroke-width="2.2" stroke-linejoin="miter"/>
  <path d="M1419.6,105 H1461" stroke="#C4640A" stroke-width="2.2"/>
  <path d="M1440.3,100.1 L1445.9,111.1 L1434.7,111.1 Z" fill="#B2B212" stroke="#8E8E0E" stroke-width="1.8" stroke-linejoin="miter"/>
  <text x="1484.3" y="80.5" font-size="31.6" textLength="79.3" lengthAdjust="spacingAndGlyphs">Water</text>
  <text x="1484.3" y="115.7" font-size="31.6" textLength="79.3" lengthAdjust="spacingAndGlyphs">Ace-K</text>
  <text x="1316.2" y="358.7" font-size="32" text-anchor="middle">**</text>
  <text x="1453.95" y="225.6" font-size="33" text-anchor="middle">***</text>
  <text x="1179.3" y="31" font-size="36">B</text>
  <g stroke="#140808" stroke-width="1.05" fill="none"><circle cx="1272.7" cy="41.7" r="10.6"/><path d="M1272.6,52.3 V72.8 M1262,62.4 H1283.4"/></g>
</g>
<g id="chartB-male">
  <path d="M1680.97,461.1 V454.57 H1734.62 V461.1" fill="#ffffff" stroke="#F26A10" stroke-width="1.75"/>
  <path d="M1742.08,461.1 V357.77 H1795.22 V461.1" fill="#FFBF80" stroke="#F26A10" stroke-width="1.75"/>
  <path d="M1816.97,461.1 V450.88 H1870.12 V461.1" fill="#ffffff" stroke="#F26A10" stroke-width="1.75"/>
  <path d="M1878.08,461.1 V242.78 H1931.03 V461.1" fill="#FFBF80" stroke="#F26A10" stroke-width="1.75"/>
  <rect x="1755.3" y="256.5" width="33.3" height="9.8" fill="#ffffff" stroke="#F26A10" stroke-width="1.1"/>
  <rect x="1793.7" y="170.6" width="33.5" height="95.7" fill="#FFBF80" stroke="#F26A10" stroke-width="1.1"/>
  <path d="M1751.3,64.75 V266.8" stroke="#000000" stroke-width="1.15" fill="none"/>
  <path d="M1743.1,266.3 H1830.5" stroke="#000000" stroke-width="1.15" fill="none"/>
  <path d="M1790.0,266.3 V274.4" stroke="#000000" stroke-width="1.15" fill="none"/>
  <text x="1740.8"  y="270.6" font-size="14.3" text-anchor="end">0</text>
  <path d="M1743.1,226.0 H1751.3" stroke="#000000" stroke-width="1.15" fill="none"/>
  <text x="1740.8"  y="230.3" font-size="14.3" text-anchor="end">2</text>
  <path d="M1743.1,185.7 H1751.3" stroke="#000000" stroke-width="1.15" fill="none"/>
  <text x="1740.8"  y="190.0" font-size="14.3" text-anchor="end">4</text>
  <path d="M1743.1,145.4 H1751.3" stroke="#000000" stroke-width="1.15" fill="none"/>
  <text x="1740.8"  y="149.7" font-size="14.3" text-anchor="end">6</text>
  <path d="M1743.1,105.1 H1751.3" stroke="#000000" stroke-width="1.15" fill="none"/>
  <text x="1740.8"  y="109.4" font-size="14.3" text-anchor="end">8</text>
  <path d="M1743.1,65.3 H1751.3" stroke="#000000" stroke-width="1.15" fill="none"/>
  <text x="1740.8"  y="69.1" font-size="14.3" text-anchor="end">10</text>
  <text x="1768.9" y="288.5" font-size="14.4" textLength="42.2" lengthAdjust="spacingAndGlyphs">30 min</text>
  <path d="M1771.3,249.8 L1809.8,107.2" stroke="#C4640A" stroke-width="1.1" fill="none"/>
  <path d="M1771.3,254.8 L1809.8,182.2" stroke="#C4640A" stroke-width="1.1" fill="none"/>
  <path d="M1771.3,257.6 L1809.8,190.2" stroke="#C4640A" stroke-width="1.1" fill="none"/>
  <path d="M1771.3,264.2 L1809.8,202.1" stroke="#C4640A" stroke-width="1.1" fill="none"/>
  <circle cx="1771.3" cy="249.8" r="2.9" fill="none" stroke="#C4640A" stroke-width="1.1"/>
  <circle cx="1771.3" cy="254.8" r="2.9" fill="none" stroke="#C4640A" stroke-width="1.1"/>
  <circle cx="1771.3" cy="257.6" r="2.9" fill="none" stroke="#C4640A" stroke-width="1.1"/>
  <circle cx="1771.3" cy="264.2" r="2.9" fill="none" stroke="#C4640A" stroke-width="1.1"/>
  <circle cx="1809.8" cy="107.2" r="3.1" fill="#C4640A" stroke="none"/>
  <circle cx="1809.8" cy="182.2" r="3.1" fill="#C4640A" stroke="none"/>
  <circle cx="1809.8" cy="190.2" r="3.1" fill="#C4640A" stroke="none"/>
  <circle cx="1809.8" cy="202.1" r="3.1" fill="#C4640A" stroke="none"/>
  <text x="1788.5" y="106.5" font-size="14.5" text-anchor="middle">*</text>
  <path d="M1676.3,70 V462.1" stroke="#000000" stroke-width="1.7" fill="none"/>
  <path d="M1660.5,461.1 H1938.3" stroke="#000000" stroke-width="2.0" fill="none"/>
  <path d="M1660.5,331.1 H1676.5" stroke="#000000" stroke-width="2.0" fill="none"/>
  <path d="M1660.5,201.0 H1676.5" stroke="#000000" stroke-width="2.0" fill="none"/>
  <path d="M1660.5,71.0 H1676.5" stroke="#000000" stroke-width="2.0" fill="none"/>
  <text x="1656.3" y="469.0" font-size="27.2" text-anchor="end">0</text>
  <text x="1656.3" y="339.0" font-size="27.2" text-anchor="end">100</text>
  <text x="1656.3" y="208.9" font-size="27.2" text-anchor="end">200</text>
  <text x="1656.3" y="78.9" font-size="27.2" text-anchor="end">300</text>
  <path d="M1738.2,461.1 V476.8" stroke="#000000" stroke-width="2.0" fill="none"/>
  <text x="1738.2" y="504.4" font-size="27" text-anchor="middle">24 hr</text>
  <path d="M1873.4,461.1 V476.8" stroke="#000000" stroke-width="2.0" fill="none"/>
  <text x="1873.4" y="504.4" font-size="27" text-anchor="middle">48 hr</text>
  <path d="M1708.0,450.1 L1769.1,320.6" stroke="#C4640A" stroke-width="2.0" fill="none"/>
  <path d="M1708.0,450.4 L1769.1,330.1" stroke="#C4640A" stroke-width="2.0" fill="none"/>
  <path d="M1708.0,455.0 L1769.1,359.1" stroke="#C4640A" stroke-width="2.0" fill="none"/>
  <path d="M1708.0,455.3 L1769.1,416.6" stroke="#C4640A" stroke-width="2.0" fill="none"/>
  <circle cx="1708.0" cy="450.1" r="5.8" fill="none" stroke="#C4640A" stroke-width="1.7"/>
  <circle cx="1708.0" cy="450.4" r="5.8" fill="none" stroke="#C4640A" stroke-width="1.7"/>
  <circle cx="1708.0" cy="455.0" r="5.8" fill="none" stroke="#C4640A" stroke-width="1.7"/>
  <circle cx="1708.0" cy="455.3" r="5.8" fill="none" stroke="#C4640A" stroke-width="1.7"/>
  <circle cx="1769.1" cy="320.6" r="5.9" fill="#C4640A" stroke="none"/>
  <circle cx="1769.1" cy="330.1" r="5.9" fill="#C4640A" stroke="none"/>
  <circle cx="1769.1" cy="359.1" r="5.9" fill="#C4640A" stroke="none"/>
  <circle cx="1769.1" cy="416.6" r="5.9" fill="#C4640A" stroke="none"/>
  <path d="M1843.9,444.8 L1904.5,196.6" stroke="#C4640A" stroke-width="2.0" fill="none"/>
  <path d="M1843.9,448.5 L1904.5,215.4" stroke="#C4640A" stroke-width="2.0" fill="none"/>
  <path d="M1843.9,452.4 L1904.5,342.0" stroke="#C4640A" stroke-width="2.0" fill="none"/>
  <circle cx="1843.9" cy="444.8" r="5.8" fill="none" stroke="#C4640A" stroke-width="1.7"/>
  <circle cx="1843.9" cy="448.5" r="5.8" fill="none" stroke="#C4640A" stroke-width="1.7"/>
  <circle cx="1843.9" cy="452.4" r="5.8" fill="none" stroke="#C4640A" stroke-width="1.7"/>
  <circle cx="1904.5" cy="196.6" r="5.9" fill="#C4640A" stroke="none"/>
  <circle cx="1904.5" cy="215.4" r="5.9" fill="#C4640A" stroke="none"/>
  <circle cx="1904.5" cy="342.0" r="5.9" fill="#C4640A" stroke="none"/>
  <text transform="translate(1596.4,325.6) rotate(-90)" font-size="31.6" textLength="117.6" lengthAdjust="spacingAndGlyphs">Intake (g)</text>
  <path d="M1861.8,69.9 H1903.1" stroke="#C4640A" stroke-width="2.2"/>
  <circle cx="1882.4" cy="69.8" r="5.5" fill="none" stroke="#C4640A" stroke-width="2.2"/>
  <path d="M1861.8,106.8 H1903.1" stroke="#C4640A" stroke-width="2.2"/>
  <circle cx="1882.4" cy="106.8" r="5.9" fill="#C4640A" stroke="none"/>
  <text x="1927.3" y="80.1" font-size="31.6" textLength="79.3" lengthAdjust="spacingAndGlyphs">Water</text>
  <text x="1927.3" y="116.9" font-size="31.6" textLength="79.3" lengthAdjust="spacingAndGlyphs">Ace-K</text>
  <text x="1739.3" y="332.3" font-size="31" text-anchor="middle">*</text>
  <text x="1868.4" y="205.4" font-size="31" text-anchor="middle">*</text>
  <g stroke="#140808" stroke-width="1.0" fill="none"><circle cx="1697.3" cy="57.2" r="10.6"/><path d="M1701.6,47.4 L1710.1,28.3 M1697.1,34.8 L1710.1,28.3 L1713.8,42.8"/></g>
</g>
<!-- 30_chartC.svg -->
<g id="chartC">
  <path d="M1331.15,1024.9 V1008.45 H1353.45 V1024.9" fill="#D2D2D2" stroke="#000" stroke-width="1.9"/>
  <path d="M1367.05,1024.9 V1008.45 H1389.75 V1024.9" fill="#D2D2D2" stroke="#000" stroke-width="1.9"/>
  <path d="M1403.55,1024.9 V1011.45 H1425.85 V1024.9" fill="#D2D2D2" stroke="#000" stroke-width="1.9"/>
  <path d="M1439.85,1024.9 V1012.45 H1462.05 V1024.9" fill="#D2D2D2" stroke="#000" stroke-width="1.9"/>
  <path d="M1487.85,1024.9 V943.45 H1510.05 V1024.9" fill="#D2D2D2" stroke="#000" stroke-width="1.9"/>
  <path d="M1524.15,1024.9 V945.45 H1546.45 V1024.9" fill="#D2D2D2" stroke="#000" stroke-width="1.9"/>
  <path d="M1560.25,1024.9 V876.55 H1582.75 V1024.9" fill="#D2D2D2" stroke="#000" stroke-width="1.9"/>
  <path d="M1596.45,1024.9 V881.85 H1618.85 V1024.9" fill="#D2D2D2" stroke="#000" stroke-width="1.9"/>
  <path d="M1753.25,1024.9 V914.05 H1775.05 V1024.9" fill="#D2D2D2" stroke="#000" stroke-width="1.9"/>
  <path d="M1789.25,1024.9 V920.15 H1811.15 V1024.9" fill="#D2D2D2" stroke="#000" stroke-width="1.9"/>
  <path d="M1825.35,1024.9 V811.45 H1847.45 V1024.9" fill="#D2D2D2" stroke="#000" stroke-width="1.9"/>
  <path d="M1861.65,1024.9 V807.55 H1883.55 V1024.9" fill="#D2D2D2" stroke="#000" stroke-width="1.9"/>
  <circle cx="1345.0" cy="1011.5" r="7.4" fill="#BDBD10" stroke="#000" stroke-width="1.9"/>
  <circle cx="1346.5" cy="1009.0" r="7.4" fill="#BDBD10" stroke="#000" stroke-width="1.9"/>
  <circle cx="1342.0" cy="1008.5" r="7.4" fill="#BDBD10" stroke="#000" stroke-width="1.9"/>
  <circle cx="1346.5" cy="1005.5" r="7.4" fill="#BDBD10" stroke="#000" stroke-width="1.9"/>
  <circle cx="1345.5" cy="1003.5" r="7.4" fill="#BDBD10" stroke="#000" stroke-width="1.9"/>
  <circle cx="1338.8" cy="1004.2" r="7.4" fill="#BDBD10" stroke="#000" stroke-width="1.9"/>
  <circle cx="1377.0" cy="1012.5" r="7.4" fill="#FFFFE0" stroke="#000" stroke-width="1.9"/>
  <circle cx="1374.0" cy="1007.0" r="7.4" fill="#FFFFE0" stroke="#000" stroke-width="1.9"/>
  <circle cx="1375.0" cy="1002.5" r="7.4" fill="#FFFFE0" stroke="#000" stroke-width="1.9"/>
  <circle cx="1378.0" cy="1003.0" r="7.4" fill="#FFFFE0" stroke="#000" stroke-width="1.9"/>
  <circle cx="1384.0" cy="1004.5" r="7.4" fill="#FFFFE0" stroke="#000" stroke-width="1.9"/>
  <circle cx="1381.1" cy="1008.4" r="7.4" fill="#FFFFE0" stroke="#000" stroke-width="1.9"/>
  <path d="M1409.5,1001.5 L1416.8,1015.5 L1402.2,1015.5 Z" fill="#F97F0F" stroke="#000" stroke-width="1.9" stroke-linejoin="miter"/>
  <path d="M1412.0,1000.0 L1419.3,1014.0 L1404.7,1014.0 Z" fill="#F97F0F" stroke="#000" stroke-width="1.9" stroke-linejoin="miter"/>
  <path d="M1410.0,997.0 L1417.3,1011.0 L1402.7,1011.0 Z" fill="#F97F0F" stroke="#000" stroke-width="1.9" stroke-linejoin="miter"/>
  <path d="M1413.0,995.0 L1420.3,1009.0 L1405.7,1009.0 Z" fill="#F97F0F" stroke="#000" stroke-width="1.9" stroke-linejoin="miter"/>
  <path d="M1419.5,996.5 L1426.8,1010.5 L1412.2,1010.5 Z" fill="#F97F0F" stroke="#000" stroke-width="1.9" stroke-linejoin="miter"/>
  <path d="M1415.6,1000.3 L1422.9,1014.3 L1408.3,1014.3 Z" fill="#F97F0F" stroke="#000" stroke-width="1.9" stroke-linejoin="miter"/>
  <path d="M1446.5,1003.0 L1453.8,1017.0 L1439.2,1017.0 Z" fill="#FCDCC0" stroke="#000" stroke-width="1.9" stroke-linejoin="miter"/>
  <path d="M1455.0,1000.5 L1462.3,1014.5 L1447.7,1014.5 Z" fill="#FCDCC0" stroke="#000" stroke-width="1.9" stroke-linejoin="miter"/>
  <path d="M1453.5,999.0 L1460.8,1013.0 L1446.2,1013.0 Z" fill="#FCDCC0" stroke="#000" stroke-width="1.9" stroke-linejoin="miter"/>
  <path d="M1448.0,998.0 L1455.3,1012.0 L1440.7,1012.0 Z" fill="#FCDCC0" stroke="#000" stroke-width="1.9" stroke-linejoin="miter"/>
  <path d="M1450.5,1002.5 L1457.8,1016.5 L1443.2,1016.5 Z" fill="#FCDCC0" stroke="#000" stroke-width="1.9" stroke-linejoin="miter"/>
  <circle cx="1497.0" cy="956.0" r="7.4" fill="#BDBD10" stroke="#000" stroke-width="1.9"/>
  <circle cx="1504.0" cy="952.0" r="7.4" fill="#BDBD10" stroke="#000" stroke-width="1.9"/>
  <circle cx="1494.0" cy="949.5" r="7.4" fill="#BDBD10" stroke="#000" stroke-width="1.9"/>
  <circle cx="1492.5" cy="945.0" r="7.4" fill="#BDBD10" stroke="#000" stroke-width="1.9"/>
  <circle cx="1504.8" cy="945.7" r="7.4" fill="#BDBD10" stroke="#000" stroke-width="1.9"/>
  <circle cx="1498.2" cy="940.0" r="7.4" fill="#BDBD10" stroke="#000" stroke-width="1.9"/>
  <circle cx="1502.0" cy="925.0" r="7.4" fill="#BDBD10" stroke="#000" stroke-width="1.9"/>
  <circle cx="1498.0" cy="921.3" r="7.4" fill="#BDBD10" stroke="#000" stroke-width="1.9"/>
  <circle cx="1498.2" cy="931.6" r="7.4" fill="#BDBD10" stroke="#000" stroke-width="1.9"/>
  <circle cx="1534.8" cy="955.0" r="7.4" fill="#FFFFE0" stroke="#000" stroke-width="1.9"/>
  <circle cx="1540.5" cy="950.4" r="7.4" fill="#FFFFE0" stroke="#000" stroke-width="1.9"/>
  <circle cx="1528.2" cy="948.5" r="7.4" fill="#FFFFE0" stroke="#000" stroke-width="1.9"/>
  <circle cx="1538.6" cy="939.1" r="7.4" fill="#FFFFE0" stroke="#000" stroke-width="1.9"/>
  <circle cx="1534.8" cy="927.5" r="7.4" fill="#FFFFE0" stroke="#000" stroke-width="1.9"/>
  <circle cx="1532.9" cy="944.7" r="7.4" fill="#FFFFE0" stroke="#000" stroke-width="1.9"/>
  <path d="M1569.6,907.2 L1576.9,921.2 L1562.3,921.2 Z" fill="#F97F0F" stroke="#000" stroke-width="1.9" stroke-linejoin="miter"/>
  <path d="M1571.5,895.0 L1578.8,909.0 L1564.2,909.0 Z" fill="#F97F0F" stroke="#000" stroke-width="1.9" stroke-linejoin="miter"/>
  <path d="M1574.0,890.5 L1581.3,904.5 L1566.7,904.5 Z" fill="#F97F0F" stroke="#000" stroke-width="1.9" stroke-linejoin="miter"/>
  <path d="M1564.9,887.5 L1572.2,901.5 L1557.6,901.5 Z" fill="#F97F0F" stroke="#000" stroke-width="1.9" stroke-linejoin="miter"/>
  <path d="M1569.2,877.2 L1576.5,891.2 L1561.9,891.2 Z" fill="#F97F0F" stroke="#000" stroke-width="1.9" stroke-linejoin="miter"/>
  <path d="M1575.2,884.7 L1582.5,898.7 L1567.9,898.7 Z" fill="#F97F0F" stroke="#000" stroke-width="1.9" stroke-linejoin="miter"/>
  <path d="M1573.3,858.5 L1580.6,872.5 L1566.0,872.5 Z" fill="#F97F0F" stroke="#000" stroke-width="1.9" stroke-linejoin="miter"/>
  <path d="M1569.2,857.5 L1576.5,871.5 L1561.9,871.5 Z" fill="#F97F0F" stroke="#000" stroke-width="1.9" stroke-linejoin="miter"/>
  <path d="M1567.7,841.5 L1575.0,855.5 L1560.4,855.5 Z" fill="#F97F0F" stroke="#000" stroke-width="1.9" stroke-linejoin="miter"/>
  <path d="M1573.3,832.1 L1580.6,846.1 L1566.0,846.1 Z" fill="#F97F0F" stroke="#000" stroke-width="1.9" stroke-linejoin="miter"/>
  <path d="M1605.3,912.9 L1612.6,926.9 L1598.0,926.9 Z" fill="#FCDCC0" stroke="#000" stroke-width="1.9" stroke-linejoin="miter"/>
  <path d="M1610.0,905.4 L1617.3,919.4 L1602.7,919.4 Z" fill="#FCDCC0" stroke="#000" stroke-width="1.9" stroke-linejoin="miter"/>
  <path d="M1608.1,899.7 L1615.4,913.7 L1600.8,913.7 Z" fill="#FCDCC0" stroke="#000" stroke-width="1.9" stroke-linejoin="miter"/>
  <path d="M1608.1,891.3 L1615.4,905.3 L1600.8,905.3 Z" fill="#FCDCC0" stroke="#000" stroke-width="1.9" stroke-linejoin="miter"/>
  <path d="M1605.3,883.8 L1612.6,897.8 L1598.0,897.8 Z" fill="#FCDCC0" stroke="#000" stroke-width="1.9" stroke-linejoin="miter"/>
  <path d="M1608.1,879.1 L1615.4,893.1 L1600.8,893.1 Z" fill="#FCDCC0" stroke="#000" stroke-width="1.9" stroke-linejoin="miter"/>
  <path d="M1605.3,869.7 L1612.6,883.7 L1598.0,883.7 Z" fill="#FCDCC0" stroke="#000" stroke-width="1.9" stroke-linejoin="miter"/>
  <path d="M1601.5,850.9 L1608.8,864.9 L1594.2,864.9 Z" fill="#FCDCC0" stroke="#000" stroke-width="1.9" stroke-linejoin="miter"/>
  <path d="M1607.0,850.0 L1614.3,864.0 L1599.7,864.0 Z" fill="#FCDCC0" stroke="#000" stroke-width="1.9" stroke-linejoin="miter"/>
  <path d="M1611.9,850.9 L1619.2,864.9 L1604.6,864.9 Z" fill="#FCDCC0" stroke="#000" stroke-width="1.9" stroke-linejoin="miter"/>
  <circle cx="1766.3" cy="929.3" r="7.4" fill="#BDBD10" stroke="#000" stroke-width="1.9"/>
  <circle cx="1758.1" cy="928.2" r="7.4" fill="#BDBD10" stroke="#000" stroke-width="1.9"/>
  <circle cx="1759.8" cy="917.4" r="7.4" fill="#BDBD10" stroke="#000" stroke-width="1.9"/>
  <circle cx="1768.5" cy="918.5" r="7.4" fill="#BDBD10" stroke="#000" stroke-width="1.9"/>
  <circle cx="1765.2" cy="892.6" r="7.4" fill="#BDBD10" stroke="#000" stroke-width="1.9"/>
  <circle cx="1762.8" cy="898.0" r="7.4" fill="#BDBD10" stroke="#000" stroke-width="1.9"/>
  <circle cx="1764.6" cy="905.5" r="7.4" fill="#BDBD10" stroke="#000" stroke-width="1.9"/>
  <circle cx="1794.8" cy="927.2" r="7.4" fill="#FFFFE0" stroke="#000" stroke-width="1.9"/>
  <circle cx="1798.7" cy="919.2" r="7.4" fill="#FFFFE0" stroke="#000" stroke-width="1.9"/>
  <circle cx="1801.3" cy="922.8" r="7.4" fill="#FFFFE0" stroke="#000" stroke-width="1.9"/>
  <circle cx="1803.0" cy="905.5" r="7.4" fill="#FFFFE0" stroke="#000" stroke-width="1.9"/>
  <circle cx="1797.4" cy="904.5" r="7.4" fill="#FFFFE0" stroke="#000" stroke-width="1.9"/>
  <circle cx="1804.5" cy="930.4" r="7.4" fill="#FFFFE0" stroke="#000" stroke-width="1.9"/>
  <path d="M1831.6,851.5 L1838.9,865.5 L1824.3,865.5 Z" fill="#F97F0F" stroke="#000" stroke-width="1.9" stroke-linejoin="miter"/>
  <path d="M1838.0,844.0 L1845.3,858.0 L1830.7,858.0 Z" fill="#F97F0F" stroke="#000" stroke-width="1.9" stroke-linejoin="miter"/>
  <path d="M1841.3,838.5 L1848.6,852.5 L1834.0,852.5 Z" fill="#F97F0F" stroke="#000" stroke-width="1.9" stroke-linejoin="miter"/>
  <path d="M1834.8,838.5 L1842.1,852.5 L1827.5,852.5 Z" fill="#F97F0F" stroke="#000" stroke-width="1.9" stroke-linejoin="miter"/>
  <path d="M1841.3,819.5 L1848.6,833.5 L1834.0,833.5 Z" fill="#F97F0F" stroke="#000" stroke-width="1.9" stroke-linejoin="miter"/>
  <path d="M1834.8,821.3 L1842.1,835.3 L1827.5,835.3 Z" fill="#F97F0F" stroke="#000" stroke-width="1.9" stroke-linejoin="miter"/>
  <path d="M1838.0,815.9 L1845.3,829.9 L1830.7,829.9 Z" fill="#F97F0F" stroke="#000" stroke-width="1.9" stroke-linejoin="miter"/>
  <path d="M1833.7,771.6 L1841.0,785.6 L1826.4,785.6 Z" fill="#F97F0F" stroke="#000" stroke-width="1.9" stroke-linejoin="miter"/>
  <path d="M1841.3,765.1 L1848.6,779.1 L1834.0,779.1 Z" fill="#F97F0F" stroke="#000" stroke-width="1.9" stroke-linejoin="miter"/>
  <path d="M1838.0,774.8 L1845.3,788.8 L1830.7,788.8 Z" fill="#F97F0F" stroke="#000" stroke-width="1.9" stroke-linejoin="miter"/>
  <path d="M1835.9,746.7 L1843.2,760.7 L1828.6,760.7 Z" fill="#F97F0F" stroke="#000" stroke-width="1.9" stroke-linejoin="miter"/>
  <path d="M1872.2,871.0 L1879.5,885.0 L1864.9,885.0 Z" fill="#FCDCC0" stroke="#000" stroke-width="1.9" stroke-linejoin="miter"/>
  <path d="M1874.8,850.4 L1882.1,864.4 L1867.5,864.4 Z" fill="#FCDCC0" stroke="#000" stroke-width="1.9" stroke-linejoin="miter"/>
  <path d="M1869.4,850.4 L1876.7,864.4 L1862.1,864.4 Z" fill="#FCDCC0" stroke="#000" stroke-width="1.9" stroke-linejoin="miter"/>
  <path d="M1872.2,835.3 L1879.5,849.3 L1864.9,849.3 Z" fill="#FCDCC0" stroke="#000" stroke-width="1.9" stroke-linejoin="miter"/>
  <path d="M1878.0,829.9 L1885.3,843.9 L1870.7,843.9 Z" fill="#FCDCC0" stroke="#000" stroke-width="1.9" stroke-linejoin="miter"/>
  <path d="M1867.9,824.5 L1875.2,838.5 L1860.6,838.5 Z" fill="#FCDCC0" stroke="#000" stroke-width="1.9" stroke-linejoin="miter"/>
  <path d="M1872.2,806.8 L1879.5,820.8 L1864.9,820.8 Z" fill="#FCDCC0" stroke="#000" stroke-width="1.9" stroke-linejoin="miter"/>
  <path d="M1872.2,783.4 L1879.5,797.4 L1864.9,797.4 Z" fill="#FCDCC0" stroke="#000" stroke-width="1.9" stroke-linejoin="miter"/>
  <path d="M1873.7,766.8 L1881.0,780.8 L1866.4,780.8 Z" fill="#FCDCC0" stroke="#000" stroke-width="1.9" stroke-linejoin="miter"/>
  <path d="M1867.9,772.6 L1875.2,786.6 L1860.6,786.6 Z" fill="#FCDCC0" stroke="#000" stroke-width="1.9" stroke-linejoin="miter"/>
  <path d="M1872.2,750.6 L1879.5,764.6 L1864.9,764.6 Z" fill="#FCDCC0" stroke="#000" stroke-width="1.9" stroke-linejoin="miter"/>
  <path d="M1870.0,728.3 L1877.3,742.3 L1862.7,742.3 Z" fill="#FCDCC0" stroke="#000" stroke-width="1.9" stroke-linejoin="miter"/>
  <path d="M1874.3,729.0 L1881.6,743.0 L1867.0,743.0 Z" fill="#FCDCC0" stroke="#000" stroke-width="1.9" stroke-linejoin="miter"/>
  <path d="M1317.95,646.7 V1025.9" stroke="#000000" stroke-width="1.9" fill="none"/>
  <path d="M1306.8,1024.9 H1897.5" stroke="#000000" stroke-width="1.9" fill="none"/>
  <path d="M1306.8,949.5 H1318" stroke="#000000" stroke-width="1.9" fill="none"/>
  <path d="M1306.8,874.0 H1318" stroke="#000000" stroke-width="1.9" fill="none"/>
  <path d="M1306.8,798.6 H1318" stroke="#000000" stroke-width="1.9" fill="none"/>
  <path d="M1306.8,723.1 H1318" stroke="#000000" stroke-width="1.9" fill="none"/>
  <path d="M1306.8,647.7 H1318" stroke="#000000" stroke-width="1.9" fill="none"/>
  <text x="1303.4" y="1032.7" font-size="26.6" text-anchor="end">0</text>
  <text x="1303.4" y="957.2" font-size="26.6" text-anchor="end">200</text>
  <text x="1303.4" y="881.8" font-size="26.6" text-anchor="end">400</text>
  <text x="1303.4" y="806.4" font-size="26.6" text-anchor="end">600</text>
  <text x="1303.4" y="730.9" font-size="26.6" text-anchor="end">800</text>
  <text x="1303.4" y="655.5" font-size="26.6" text-anchor="end">1000</text>
  <text x="1396.3" y="1062.2" font-size="26.6" text-anchor="middle">PN26</text>
  <text x="1552.5" y="1062.2" font-size="26.6" text-anchor="middle">PN77</text>
  <text x="1818.2" y="1062.2" font-size="26.6" text-anchor="middle">PN210-225</text>
  <text transform="translate(1229.1,916.9) rotate(-90)" font-size="30.6" textLength="192" lengthAdjust="spacingAndGlyphs" xml:space="preserve">Body Mass  (g)</text>
  <text x="1179.1" y="591.4" font-size="36.5">C</text>
  <circle cx="1578.5" cy="588.7" r="7.55" fill="#BDBD10" stroke="#000" stroke-width="1.9"/>
  <path d="M1578.3,615.3 L1585.7,629.5 L1570.9,629.5 Z" fill="#F97F0F" stroke="#000" stroke-width="1.9" stroke-linejoin="miter"/>
  <circle cx="1767.9" cy="588.7" r="7.55" fill="#FFFFE0" stroke="#000" stroke-width="1.9"/>
  <path d="M1767.8,615.3 L1775.2,629.5 L1760.4,629.5 Z" fill="#FCDCC0" stroke="#000" stroke-width="1.9" stroke-linejoin="miter"/>
  <text x="1621.6" y="596.7" font-size="26.6">Control-F</text>
  <text x="1621.6" y="629.8" font-size="26.6">Control-M</text>
  <text x="1811" y="596.7" font-size="26.6">Ace-K-F</text>
  <text x="1811" y="629.8" font-size="26.6">Ace-K-M</text>
  <g transform="translate(1493.3,913.6) rotate(-45)"><text x="0" y="0" font-size="25.6">441<tspan font-size="16.5" dy="-10.7">%</tspan></text></g>
  <g transform="translate(1525.9,922.4) rotate(-45)"><text x="0" y="0" font-size="25.6">444<tspan font-size="16.5" dy="-10.7">%</tspan></text></g>
  <g transform="translate(1570.9,825.3) rotate(-45)"><text x="0" y="0" font-size="25.6">689<tspan font-size="16.5" dy="-10.7">%</tspan></text></g>
  <g transform="translate(1610.3,843.4) rotate(-45)"><text x="0" y="0" font-size="25.6">716<tspan font-size="16.5" dy="-10.7">%</tspan></text></g>
</g>
</svg>
</body>
</html>
